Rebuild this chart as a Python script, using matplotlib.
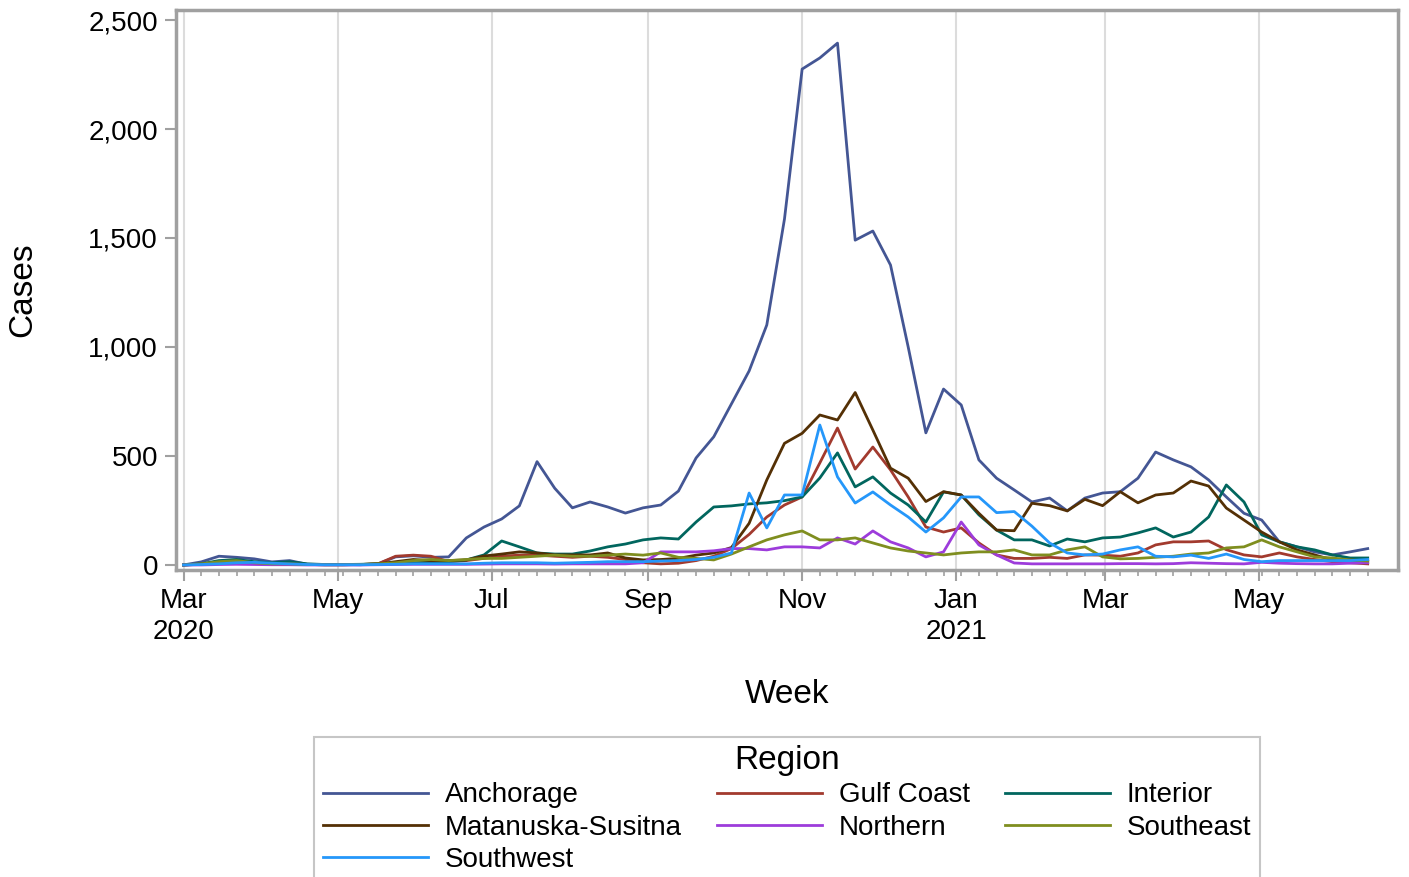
import matplotlib
matplotlib.use('Agg')
import matplotlib.pyplot as plt
import pandas as pd
from matplotlib.ticker import FuncFormatter

plt.rcParams['font.family'] = ['Liberation Sans', 'DejaVu Sans']

# Weekly counts, one point per week starting 1 Mar 2020
weeks = pd.date_range('2020-03-01', periods=68, freq='7D')

anchorage = [0, 14, 40, 35, 28, 14, 20, 3, 2, 2, 1, 5, 37, 42, 35, 37,
             124, 174, 211, 271, 474, 352, 262, 289, 266, 238, 262, 275, 339, 491, 588, 739,
             890, 1101, 1587, 2275, 2326, 2394, 1490, 1532, 1376, 1000, 606, 807, 734, 482, 398, 344,
             289, 307, 248, 307, 330, 336, 398, 518, 482, 450, 390, 312, 237, 206, 106, 83,
             60, 46, 60, 75]
gulf_coast = [0, 3, 10, 15, 10, 5, 5, 2, 1, 1, 2, 5, 40, 45, 40, 15,
              20, 30, 40, 45, 45, 40, 35, 40, 35, 25, 10, 5, 8, 20, 40, 75,
              140, 220, 275, 312, 468, 628, 440, 541, 436, 312, 174, 151, 170, 101, 46, 30,
              30, 35, 30, 46, 45, 40, 55, 92, 106, 106, 110, 70, 46, 37, 55, 37,
              25, 15, 10, 5]
interior = [0, 5, 20, 25, 15, 10, 15, 5, 2, 2, 3, 5, 8, 10, 12, 15,
            23, 46, 110, 83, 55, 50, 50, 64, 83, 96, 115, 124, 119, 197, 266, 271,
            280, 285, 295, 312, 399, 514, 358, 404, 330, 275, 197, 335, 321, 230, 160, 115,
            115, 87, 119, 106, 124, 128, 147, 170, 128, 151, 220, 367, 289, 138, 106, 83,
            69, 46, 32, 32]
mat_su = [0, 3, 10, 12, 8, 5, 5, 2, 1, 1, 2, 5, 15, 25, 20, 20,
          23, 41, 50, 60, 55, 46, 46, 46, 55, 32, 23, 25, 30, 45, 55, 80,
          191, 390, 558, 604, 688, 665, 791, 619, 444, 398, 291, 336, 321, 237, 160, 157,
          283, 272, 248, 301, 272, 336, 285, 321, 330, 385, 362, 261, 206, 151, 106, 69,
          46, 23, 23, 15]
northern = [0, 0, 2, 3, 2, 1, 1, 0, 0, 0, 0, 1, 2, 3, 3, 3,
            3, 4, 5, 5, 5, 4, 5, 5, 5, 5, 10, 60, 60, 60, 65, 75,
            75, 69, 83, 83, 78, 124, 96, 156, 106, 78, 37, 60, 197, 92, 46, 9,
            5, 5, 5, 5, 5, 6, 6, 5, 6, 10, 8, 6, 5, 12, 8, 6,
            5, 5, 8, 10]
southeast = [0, 5, 15, 20, 10, 5, 5, 2, 1, 1, 2, 5, 10, 20, 25, 20,
             25, 30, 30, 35, 40, 45, 40, 40, 45, 50, 45, 55, 35, 30, 23, 50,
             83, 115, 138, 156, 115, 115, 124, 101, 78, 64, 55, 46, 55, 60, 60, 69,
             46, 46, 69, 83, 37, 28, 30, 35, 40, 50, 55, 78, 83, 115, 83, 60,
             37, 32, 23, 18]
southwest = [0, 2, 5, 10, 12, 8, 5, 2, 1, 1, 1, 2, 3, 5, 5, 5,
             5, 8, 10, 10, 10, 8, 10, 12, 15, 15, 15, 18, 20, 25, 35, 55,
             330, 170, 321, 321, 642, 404, 284, 335, 275, 220, 151, 216, 312, 312, 240, 245,
             178, 101, 55, 46, 50, 69, 83, 40, 37, 45, 30, 50, 25, 15, 20, 20,
             20, 20, 20, 25]

regions = ['Anchorage', 'Gulf Coast', 'Interior', 'Matanuska-Susitna',
           'Northern', 'Southeast', 'Southwest']
series = [anchorage, gulf_coast, interior, mat_su, northern, southeast, southwest]
colors = ['#445694', '#A23A2E', '#01665E', '#543005', '#9D3CDB', '#7F8E1F', '#2597FA']

tick_dates = pd.to_datetime(['2020-03-01', '2020-05-01', '2020-07-01', '2020-09-01',
                             '2020-11-01', '2021-01-01', '2021-03-01', '2021-05-01'])
tick_labels = ['Mar\n2020', 'May', 'Jul', 'Sep', 'Nov', 'Jan\n2021', 'Mar', 'May']
y_ticks = [0, 500, 1000, 1500, 2000, 2500]

fig = plt.figure(figsize=(14.09, 8.77), dpi=100)
ax = fig.add_axes([0.1249, 0.3501, 0.8673, 0.6385])

lines = []
for name, vals, c in zip(regions, series, colors):
    ln, = ax.plot(weeks, vals, color=c, lw=2.0, label=name)
    lines.append(ln)

# axes, ticks and grid
ax.set_xlim(pd.Timestamp('2020-02-27'), pd.Timestamp('2021-06-25'))
ax.set_ylim(-23, 2546)
ax.set_xticks(tick_dates)
ax.set_xticklabels(tick_labels, linespacing=1.25)
ax.set_xticks(weeks, minor=True)
ax.set_yticks(y_ticks)
ax.yaxis.set_major_formatter(FuncFormatter(lambda v, p: f'{v:,.0f}'))
ax.grid(axis='x', which='major', color='#dcdcdc', lw=1.5)
ax.set_axisbelow(True)

for s in ax.spines.values():
    s.set_color('#a0a0a0')
    s.set_linewidth(2.5)
ax.tick_params(which='major', length=8, width=1.5, color='#a0a0a0', labelsize=20, pad=5)
ax.tick_params(which='minor', length=4, width=1.2, color='#a0a0a0')

ax.set_ylabel('Cases', fontsize=24)
ax.yaxis.set_label_coords(-0.113, 0.5)
ax.set_xlabel('Week', fontsize=24)
ax.xaxis.set_label_coords(0.5, -0.194)

# legend filled row-wise like the original (3 columns)
order = [0, 3, 6, 1, 4, 2, 5]
leg = fig.legend([lines[i] for i in order], [regions[i] for i in order],
                 loc='upper center', bbox_to_anchor=(787 / 1409, 1 - 737 / 877),
                 borderaxespad=0, ncol=3, fontsize=20, title='Region', title_fontsize=24,
                 frameon=True, fancybox=False, edgecolor='#b8b8b8',
                 handlelength=3.8, handletextpad=0.6, columnspacing=1.25,
                 labelspacing=0.22, borderpad=0.3)
leg.get_frame().set_linewidth(1.5)

fig.savefig('out.png', dpi=100, facecolor='white')
